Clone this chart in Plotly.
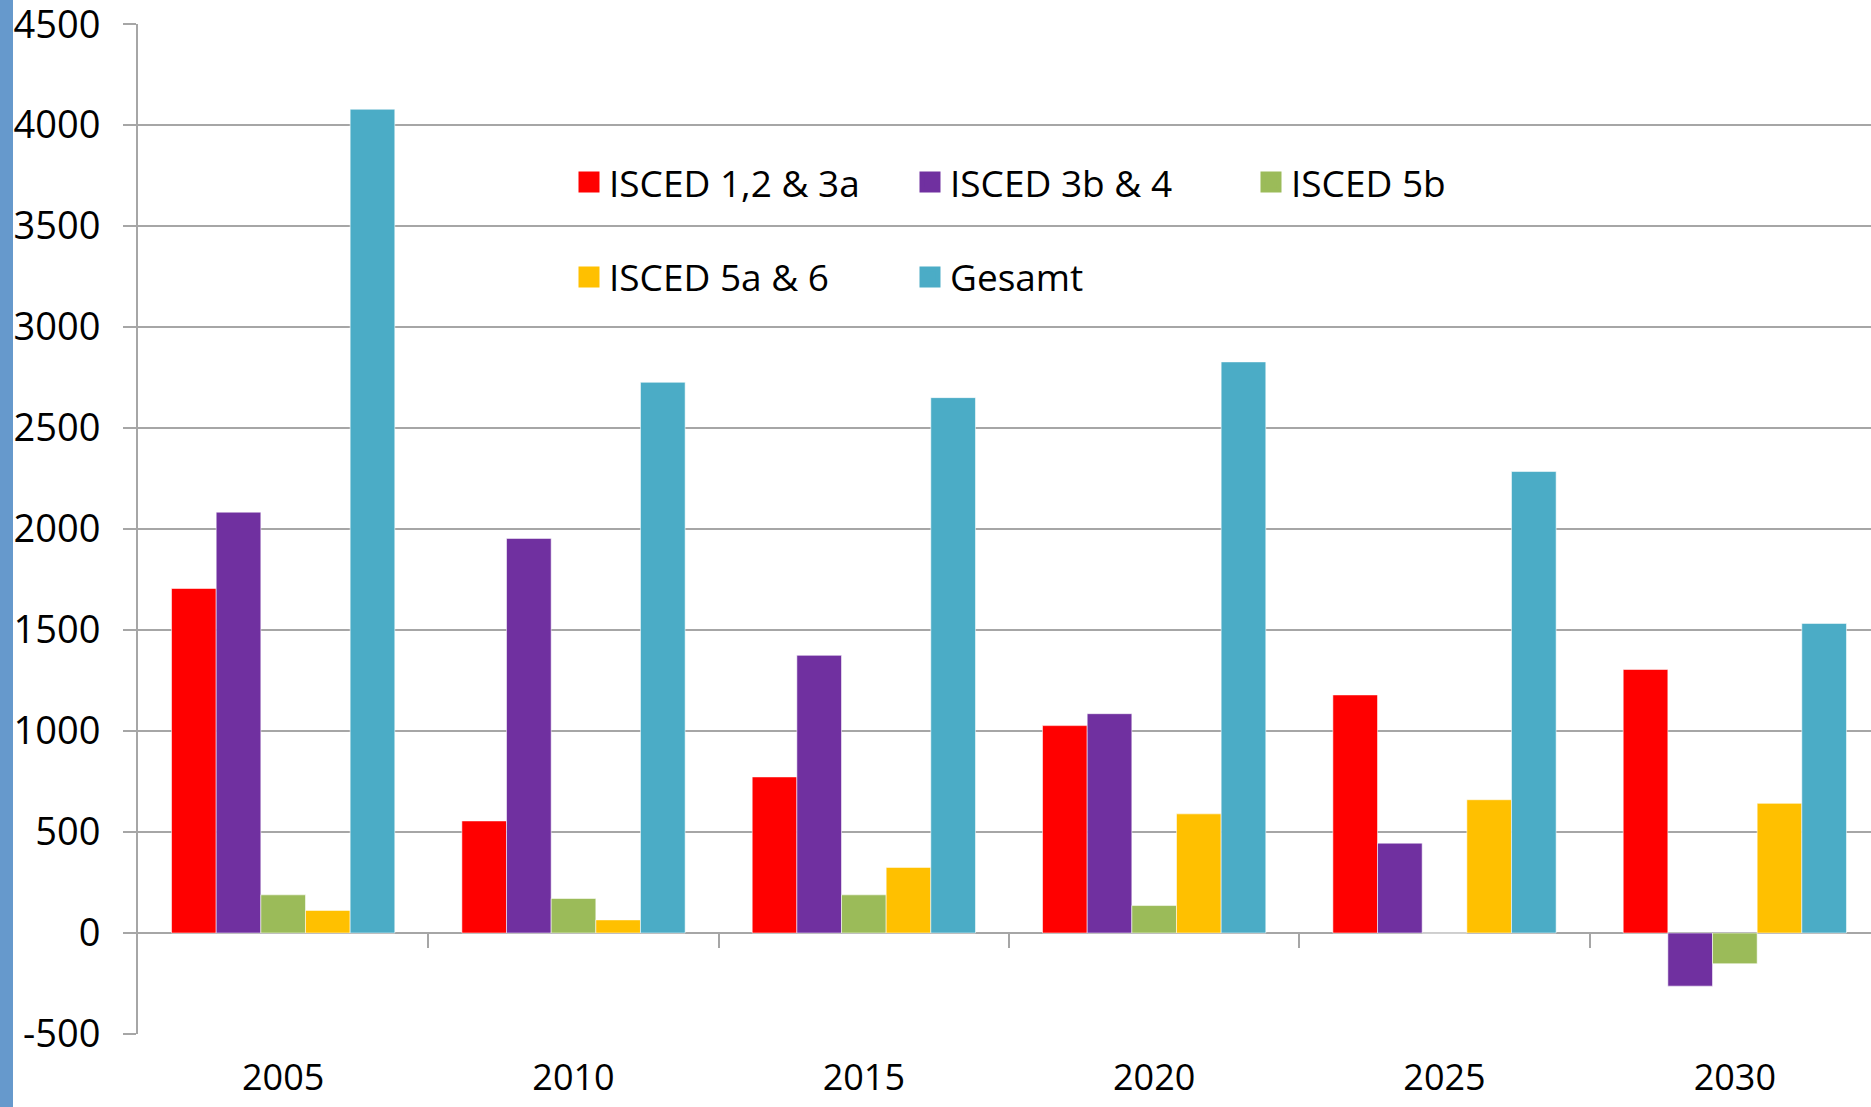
import plotly.graph_objects as go

years = ["2005", "2010", "2015", "2020", "2025", "2030"]
series_names = ["ISCED 1,2 & 3a", "ISCED 3b & 4", "ISCED 5b", "ISCED 5a & 6", "Gesamt"]
isced_1_2_3a = [1706, 555, 773, 1027, 1179, 1305]
isced_3b_4 = [2084, 1954, 1375, 1086, 445, -263]
isced_5b = [189, 171, 189, 136, 0, -152]
isced_5a_6 = [112, 65, 325, 590, 660, 642]
gesamt = [4079, 2727, 2651, 2828, 2285, 1533]
y_ticks = [-500, 0, 500, 1000, 1500, 2000, 2500, 3000, 3500, 4000, 4500]

series_values = [isced_1_2_3a, isced_3b_4, isced_5b, isced_5a_6, gesamt]
colors = ["#FF0000", "#7030A0", "#9BBB59", "#FFC000", "#4BACC6"]
legend_ids = ["legend", "legend", "legend", "legend2", "legend2"]

FONT = "Open Sans"
GRID = "#A6A6A6"

fig = go.Figure()
for name, vals, col in zip(series_names, series_values, colors):
    fig.add_trace(go.Bar(
        x=years, y=vals, name=name, marker=dict(color=col, line=dict(color="rgba(255,255,255,0.55)", width=1)),
        showlegend=False,
    ))

# legend entries (larger squares than bar legend symbols)
for name, col, lg in zip(series_names, colors, legend_ids):
    fig.add_trace(go.Scatter(
        x=[None], y=[None], mode="markers", name=name, legend=lg,
        marker=dict(symbol="square", size=16, color=col, line=dict(color=col, width=5)),
    ))

# helper axis for the category ticks on the zero line
fig.add_trace(go.Scatter(x=[None], y=[None], xaxis="x2", showlegend=False, hoverinfo="skip"))

fig.update_layout(
    width=1871, height=1107,
    margin=dict(l=138, r=0, t=24, b=73, autoexpand=False),
    paper_bgcolor="white", plot_bgcolor="white",
    barmode="group", bargap=0.231, bargroupgap=0,
    font=dict(family=FONT, size=37, color="black"),
    xaxis=dict(
        type="category", range=[-0.5, 5.469], showgrid=False, showline=False, zeroline=False,
        ticks="", tickfont=dict(family=FONT, size=36, color="black"), ticklabelstandoff=19,
        ticklabeloverflow="allow", automargin=False,
    ),
    xaxis2=dict(
        overlaying="x", anchor="free", position=0.1, range=[-0.5, 5.469], type="linear",
        showgrid=False, zeroline=False, showline=False, showticklabels=False,
        tickmode="array", tickvals=[0.5, 1.5, 2.5, 3.5, 4.5],
        ticks="outside", ticklen=14, tickwidth=2, tickcolor=GRID,
    ),
    yaxis=dict(
        range=[-500, 4501], tickmode="array", tickvals=y_ticks, ticktext=[str(v) for v in y_ticks],
        showgrid=True, gridcolor=GRID, gridwidth=2,
        zeroline=True, zerolinecolor=GRID, zerolinewidth=2,
        showline=True, linecolor=GRID, linewidth=2,
        ticks="outside", ticklen=13, tickwidth=2, tickcolor=GRID,
        tickfont=dict(family=FONT, size=38, color="black"), ticklabelstandoff=15,
        ticklabeloverflow="allow", automargin=False,
    ),
    legend=dict(
        orientation="h", x=0.2487, xanchor="left", y=0.843, yanchor="middle",
        bgcolor="rgba(0,0,0,0)", font=dict(family=FONT, size=37, color="black"),
        entrywidth=296, entrywidthmode="pixels", itemclick=False,
    ),
    legend2=dict(
        orientation="h", x=0.2487, xanchor="left", y=0.749, yanchor="middle",
        bgcolor="rgba(0,0,0,0)", font=dict(family=FONT, size=37, color="black"),
        entrywidth=296, entrywidthmode="pixels", itemclick=False,
    ),
    shapes=[dict(
        type="rect", xref="paper", yref="paper",
        x0=-138 / 1733, x1=(13 - 138) / 1733, y0=-73 / 1010, y1=1 + 24 / 1010,
        fillcolor="#6699CC", line=dict(width=0), layer="above",
    )],
)

fig.write_html(
    "out.html",
    config={"displayModeBar": False},
    post_script="document.body.style.margin='0';document.body.style.overflow='hidden';",
)
